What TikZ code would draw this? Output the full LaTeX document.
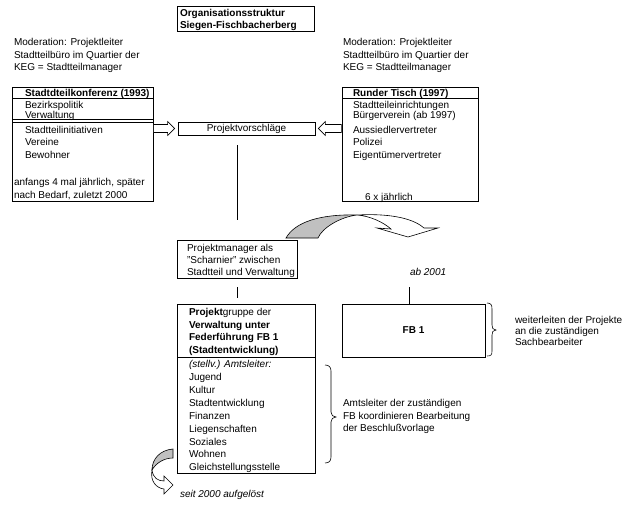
\documentclass[tikz,border=0pt]{standalone}
\usepackage{fontspec}
\setmainfont{Liberation Sans}
\usetikzlibrary{calc}
\definecolor{arrowgray}{RGB}{192,192,192}
\begin{document}
\begin{tikzpicture}[x=1pt,y=-1pt,
  box/.style={draw,line width=0.7pt,inner sep=0pt,outer sep=0pt,anchor=north west},
  txt/.style={inner sep=0pt,outer sep=0pt,anchor=west,yshift=-1pt,font=\fontsize{10}{12}\selectfont,text height=7.2pt,text depth=2pt},
  btxt/.style={txt,font=\fontsize{10}{12}\selectfont\bfseries},
  itxt/.style={txt,font=\fontsize{10}{12}\selectfont\itshape},
  rule/.style={line width=0.7pt},
  conn/.style={line width=0.7pt},
  hollow/.style={draw,fill=white,line width=0.6pt,line join=miter},
  graypart/.style={draw,fill=arrowgray,line width=0.6pt},
  bracestyle/.style={line width=0.6pt}]
\useasboundingbox (0,0) rectangle (634,512);

% title
\node[box,minimum width=137pt,minimum height=25pt] (title) at (177,6) {};
\node[btxt] (t1) at (180,13) {Organisationsstruktur};
\node[btxt] (t2) at (180,25) {Siegen-Fischbacherberg};

% moderation texts
\node[txt] (ml1) at (14,42) {Moderation: Projektleiter};
\node[txt] (ml2) at (14,54.5) {Stadtteilbüro im Quartier der};
\node[txt] (ml3) at (14,67) {KEG = Stadtteilmanager};
\node[txt] (mr1) at (343,42) {Moderation: Projektleiter};
\node[txt] (mr2) at (343,54.5) {Stadtteilbüro im Quartier der};
\node[txt] (mr3) at (343,67) {KEG = Stadtteilmanager};

% Stadtteilkonferenz
\node[box,minimum width=141pt,minimum height=114pt] (skb) at (12,87.5) {};
\node[btxt] (skh) at (25,93) {Stadtdteilkonferenz (1993)};
\draw[rule] (12,98.5) -- (153,98.5);
\node[txt] (sk1) at (25,105) {Bezirkspolitik};
\node[txt] (sk2) at (25,115) {Verwaltung};
\draw[rule,line width=0.6pt] (12,119.5) -- (153,119.5);
\draw[rule,line width=0.6pt] (12,122) -- (153,122);
\node[txt] (sk3) at (25,130) {Stadtteilinitiativen};
\node[txt] (sk4) at (25,142) {Vereine};
\node[txt] (sk5) at (25,155) {Bewohner};
\node[txt] (sk6) at (14,182) {anfangs 4 mal jährlich, später};
\node[txt] (sk7) at (14,195) {nach Bedarf, zuletzt 2000};

% Runder Tisch
\node[box,minimum width=136pt,minimum height=114pt] (rtb) at (342,87.5) {};
\node[btxt] (rth) at (353,93) {Runder Tisch (1997)};
\draw[rule] (342,98.5) -- (478,98.5);
\node[txt] (rt1) at (353,105) {Stadtteileinrichtungen};
\node[txt] (rt2) at (353,115) {Bürgerverein (ab 1997)};
\node[txt] (rt3) at (353,130) {Aussiedlervertreter};
\node[txt] (rt4) at (353,142) {Polizei};
\node[txt] (rt5) at (353,155) {Eigentümervertreter};
\node[txt] (rt6) at (365,197) {6 x jährlich};

% Projektvorschlaege
\node[draw,line width=0.7pt,inner sep=0pt,minimum width=137pt,minimum height=13pt,
      font=\fontsize{10}{12}\selectfont,text height=7.2pt,text depth=2pt] (pv) at (246.5,128.5) {Projektvorschläge};

% hollow arrows into pv
\draw[hollow] ($(pv.west)+(-24,-4)$) -- ++(14,0) -- ++(0,-3) -- ++(7,7) -- ++(-7,7) -- ++(0,-3) -- ++(-14,0) -- cycle;
\draw[hollow] ($(pv.east)+(3,0)$) -- ++(7,-7) -- ++(0,3) -- ++(16,0) -- ++(0,8) -- ++(-16,0) -- ++(0,3) -- cycle;

% Projektmanager
\node[box,minimum width=120pt,minimum height=38pt] (pm) at (177,240) {};
\node[txt] (pm1) at (187,248) {Projektmanager als};
\node[txt] (pm2) at (187,260) {"Scharnier" zwischen};
\node[txt] (pm3) at (187,272) {Stadtteil und Verwaltung};

\draw[conn,shorten <=10pt,shorten >=20pt] (pm.north |- pv.south) -- (pm.north);

% curved arrow
\draw[hollow] (357,215) .. controls (395,213) and (415,220) .. (424,228) -- (438,228) -- (408,237) -- (377,228) -- (391,229) .. controls (383,222) and (370,216) .. (357,215) -- cycle;
\draw[graypart] (286,238) .. controls (295,222) and (320,214) .. (357,215) .. controls (340,217) and (322,228) .. (318,238) -- cycle;

\node[itxt] (ab) at (410,272) {ab 2001};

% Projektgruppe
\node[box,minimum width=138pt,minimum height=169pt] (pg) at (177,304) {};
\node[txt] (pgh1) at (189,312) {\textbf{Projekt}gruppe der};
\node[btxt] (pgh2) at (189,324.5) {Verwaltung unter};
\node[btxt] (pgh3) at (189,337) {Federführung FB 1};
\node[btxt] (pgh4) at (189,349.5) {(Stadtentwicklung)};
\draw[rule] (177,357) -- (315,357);
\node[itxt] (pg0) at (189,364) {(stellv.) Amtsleiter:};
\foreach \t [count=\i] in {Jugend,Kultur,Stadtentwicklung,Finanzen,Liegenschaften,Soziales,Wohnen,Gleichstellungsstelle}
  \node[txt] (pg\i) at (189,{364+12.9*\i}) {\t};

\draw[conn,shorten <=9pt,shorten >=6pt] (pm.south) -- (pm.south |- pg.north);

% FB 1
\node[draw,line width=0.7pt,inner sep=0pt,minimum width=143pt,minimum height=53pt,
      font=\fontsize{10}{12}\selectfont\bfseries] (fb) at (413.5,330.5) {FB 1};
\coordinate (abc) at (409,287);
\draw[conn] (abc) -- (abc |- fb.north);

% braces
\draw[bracestyle] (487,303) .. controls (491,303) and (492,305) .. (492,309) -- (492,325)
  .. controls (492,328) and (493,330) .. (496,330) .. controls (493,330) and (492,332) .. (492,335)
  -- (492,351) .. controls (492,355) and (491,356) .. (487,356);
\node[txt] (w1) at (515,320) {weiterleiten der Projekte};
\node[txt] (w2) at (515,331) {an die zuständigen};
\node[txt] (w3) at (515,342) {Sachbearbeiter};

\draw[bracestyle] (325,365) .. controls (329,365) and (331,367) .. (331,371) -- (331,412)
  .. controls (331,415) and (333,417) .. (336,417) .. controls (333,417) and (331,419) .. (331,422)
  -- (331,457) .. controls (331,461) and (329,463) .. (325,463);
\node[txt] (a1) at (343,403) {Amtsleiter der zuständigen};
\node[txt] (a2) at (343,415.5) {FB koordinieren Bearbeitung};
\node[txt] (a3) at (343,428) {der Beschlußvorlage};

% bottom-left curved arrow
\draw[graypart] (173,449) .. controls (160,450) and (152,459) .. (152,470) .. controls (156,463) and (164,458) .. (173,458) -- cycle;
\draw[hollow] (152,470) .. controls (153,478) and (158,481) .. (164,481) -- (164,476) -- (173,485) -- (164,494) -- (164,489) .. controls (156,488) and (150,481) .. (152,470) -- cycle;
\node[itxt] (seit) at (180,494) {seit 2000 aufgelöst};
\end{tikzpicture}
\end{document}
